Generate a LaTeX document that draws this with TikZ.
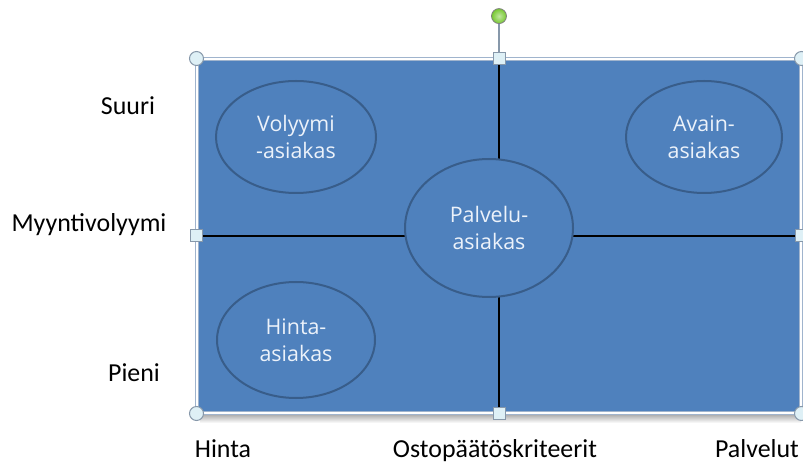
\documentclass[tikz,border=0pt]{standalone}
\usepackage{fontspec}
\setmainfont{Carlito}
\newfontfamily\ovalfont{Open Sans}
\usepackage{tikz}
\usetikzlibrary{shapes.geometric}
\usetikzlibrary{positioning}
\definecolor{fillblue}{RGB}{79,129,189}
\definecolor{ovaledge}{RGB}{56,93,138}
\definecolor{ovaltext}{RGB}{236,242,250}
\definecolor{selframe}{RGB}{160,180,205}
\definecolor{handlefill}{RGB}{222,240,246}
\definecolor{handleedge}{RGB}{135,152,170}
\definecolor{rotgreen}{RGB}{118,200,48}
\tikzset{%
  myquad/.style={rectangle, fill=fillblue, draw=selframe, double=white, double distance=1.4bp, line width=1bp, inner sep=0},
  mydiv/.style={line width=2.4bp, black},
  myoval/.style={ellipse, fill=fillblue, draw=ovaledge, line width=2bp, inner sep=0, align=center, text=ovaltext, font=\ovalfont\fontsize{21.5}{27}\selectfont},
  mylabel/.style={anchor=base, inner sep=0, font=\fontsize{26}{30}\selectfont},
  cornerhandle/.style={circle, minimum size=14bp, inner sep=0, fill=handlefill, draw=handleedge, line width=1bp},
  sidehandle/.style={rectangle, minimum size=12bp, inner sep=0, fill=handlefill, draw=handleedge, line width=1bp},
  rothandle/.style={circle, minimum size=15bp, inner sep=0, inner color=rotgreen!45!white, outer color=rotgreen, draw=gray, line width=0.8bp},
  rotstem/.style={draw=handleedge, line width=1.5bp}
}

\begin{document}
\begin{tikzpicture}[x=1bp, y=-1bp]
  \useasboundingbox (0,0) rectangle (803,464);
  \clip (0,0) rectangle (803,464);
  % shadow under the box
  \shade[top color=black!30, bottom color=white] (200,415) rectangle (801,423);
  \node[myquad, minimum width=604bp, minimum height=354bp] (mat) at (499,236) {};
  \draw [mydiv] (mat.north) -- (mat.south);
  \draw [mydiv] (mat.west) -- (mat.east);
  % segments
  \node[myoval, minimum width=160bp, minimum height=112bp] (volyymi) at (296,137) {Volyymi\\-asiakas};
  \node[myoval, minimum width=156bp, minimum height=112bp] (avain) at (704,137) {Avain-\\asiakas};
  \node[myoval, minimum width=158bp, minimum height=116bp] (hintaas) at (296,340) {Hinta-\\asiakas};
  \node[myoval, minimum width=168bp, minimum height=138bp] (palvelu) at (489,228) {Palvelu-\\asiakas};
  % axes
  \node[mylabel] (suuri) at (128,115) {Suuri};
  \node[mylabel] (myynti) at (89,232) {Myyntivolyymi};
  \node[mylabel] (pieni) at (134,382) {Pieni};
  \node[mylabel] (hinta) at (223,457) {Hinta};
  \node[mylabel] (osto) at (495,457) {Ostopäätöskriteerit};
  \node[mylabel] (palvelut) at (757,457) {Palvelut};
  % selection handles
  \foreach \a/\n in {north west/nw, north east/ne, south west/sw, south east/se}
    \node[cornerhandle] (h\n) at (mat.\a) {};
  \foreach \a/\n in {north/n, south/s, west/w, east/e}
    \node[sidehandle] (h\n) at (mat.\a) {};
  \node[rothandle, above=28bp] (rot) at (hn.north) {};
  \draw [rotstem] (hn) -- (rot);
\end{tikzpicture}
\end{document}
